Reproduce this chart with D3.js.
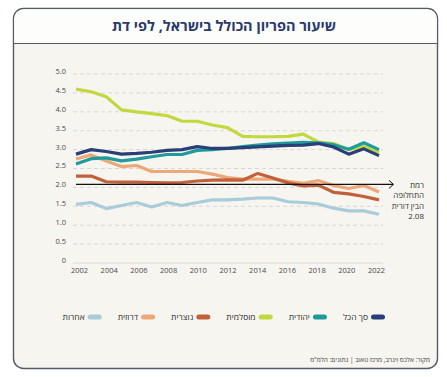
<!DOCTYPE html>
<html>
<head>
<meta charset="utf-8">
<script src="https://cdn.jsdelivr.net/npm/d3@7"></script>
<style>
  body { margin: 0; background: #ffffff; }
  svg { display: block; font-family: "Open Sans", "DejaVu Sans", sans-serif; }
</style>
</head>
<body>
<svg id="chart" width="447" height="377"></svg>
<script>
// --- Data ---
const years = d3.range(2002, 2023);
const total     = [2.88, 3.00, 2.95, 2.88, 2.90, 2.93, 2.98, 3.00, 3.08, 3.03, 3.03, 3.05, 3.07, 3.09, 3.11, 3.12, 3.16, 3.07, 2.88, 3.02, 2.84];
const jewish    = [2.62, 2.76, 2.78, 2.70, 2.75, 2.81, 2.87, 2.87, 2.98, 3.00, 3.03, 3.08, 3.12, 3.15, 3.17, 3.19, 3.18, 3.13, 3.01, 3.18, 3.00];
const muslim    = [4.60, 4.53, 4.40, 4.05, 4.00, 3.95, 3.90, 3.75, 3.75, 3.65, 3.58, 3.35, 3.34, 3.34, 3.35, 3.41, 3.20, 3.16, 3.00, 3.08, 2.92];
const christian = [2.30, 2.30, 2.15, 2.14, 2.14, 2.13, 2.12, 2.13, 2.17, 2.19, 2.20, 2.19, 2.37, 2.25, 2.12, 2.04, 2.06, 1.87, 1.83, 1.76, 1.67];
const druze     = [2.75, 2.86, 2.70, 2.55, 2.58, 2.42, 2.42, 2.42, 2.42, 2.35, 2.26, 2.22, 2.22, 2.22, 2.16, 2.11, 2.18, 2.05, 1.97, 2.05, 1.88];
const others    = [1.55, 1.60, 1.44, 1.52, 1.60, 1.48, 1.60, 1.52, 1.60, 1.67, 1.67, 1.69, 1.72, 1.72, 1.62, 1.60, 1.56, 1.45, 1.38, 1.38, 1.29];

const seriesNames  = ["סך הכל", "יהודית", "מוסלמית", "נוצרית", "דרוזית", "אחרות"];
const seriesValues = [total, jewish, muslim, christian, druze, others];
const seriesColors = ["#283f78", "#1f9b9c", "#c3d83e", "#c1613b", "#eca878", "#a8ccda"];

const yTicks = [0, 0.5, 1, 1.5, 2, 2.5, 3, 3.5, 4, 4.5, 5];
const xTicks = d3.range(2002, 2023, 2);
const replacement = 2.08;
const noteLines = ["רמת", "התחלופה", "הבין דורית", "2.08"];

const title = "שיעור הפריון הכולל בישראל, לפי דת";
const source = "מקור: אלכס וינרב, מרכז טאוב | נתונים: הלמ\"ס";

// --- Frame ---
const svg = d3.select("#chart");

svg.append("rect")
  .attr("x", 13.5).attr("y", 8.5)
  .attr("width", 424).attr("height", 360)
  .attr("rx", 10)
  .attr("fill", "#f7f5f0")
  .attr("stroke", "#545a66")
  .attr("stroke-width", 1.4);

// title band (white top with rounded corners)
svg.append("path")
  .attr("d", "M14.2,43 L14.2,18.5 A9.3,9.3 0 0 1 23.5,9.2 L427.5,9.2 A9.3,9.3 0 0 1 436.8,18.5 L436.8,43 Z")
  .attr("fill", "#fdfdfc");
svg.append("line")
  .attr("x1", 14).attr("x2", 437)
  .attr("y1", 43.5).attr("y2", 43.5)
  .attr("stroke", "#545a66").attr("stroke-width", 1.2);

svg.append("text")
  .attr("x", 224).attr("y", 31)
  .attr("text-anchor", "middle")
  .attr("direction", "rtl")
  .attr("font-size", 14.5)
  .attr("font-weight", 700)
  .attr("fill", "#2a3a6a")
  .text(title);

// --- Scales ---
const x = d3.scaleLinear().domain([2002, 2022]).range([76, 379]);
const y = d3.scaleLinear().domain([0, 5]).range([263, 74]);

// gridlines
const grid = svg.append("g");
grid.selectAll("line")
  .data(yTicks)
  .join("line")
  .attr("x1", 73).attr("x2", 383)
  .attr("y1", d => y(d)).attr("y2", d => y(d))
  .attr("stroke", d => d === 0 ? "#d6d6d6" : "#cfcfcf")
  .attr("stroke-width", 0.8)
  .attr("stroke-dasharray", d => d === 0 ? null : "4,3");

// y axis labels
const yAxis = d3.axisLeft(y).tickValues(yTicks)
  .tickFormat(d => d === 0 ? "0" : d3.format(".1f")(d))
  .tickSize(0).tickPadding(0);
svg.append("g")
  .attr("transform", "translate(66,-3)")
  .call(yAxis)
  .call(g => g.select(".domain").remove())
  .call(g => g.selectAll("text").attr("font-size", 7.5).attr("fill", "#4a4a4a")
    .attr("font-family", "\"Open Sans\", \"DejaVu Sans\", sans-serif"));

// x axis labels
const xLab = d3.scaleLinear().domain([2002, 2022]).range([79, 376]);
const xAxis = d3.axisBottom(xLab).tickValues(xTicks)
  .tickFormat(d3.format("d")).tickSize(0).tickPadding(0);
svg.append("g")
  .attr("transform", "translate(0,268)")
  .call(xAxis)
  .call(g => g.select(".domain").remove())
  .call(g => g.selectAll("text").attr("font-size", 7.5).attr("fill", "#4a4a4a")
    .attr("font-family", "\"Open Sans\", \"DejaVu Sans\", sans-serif"));

// --- Lines ---
const line = d3.line()
  .x((d, i) => x(years[i]))
  .y(d => y(d));

const drawOrder = [5, 4, 3, 2, 1, 0];
svg.append("g")
  .selectAll("path")
  .data(drawOrder)
  .join("path")
  .attr("d", i => line(seriesValues[i]))
  .attr("fill", "none")
  .attr("stroke", i => seriesColors[i])
  .attr("stroke-width", 3.2)
  .attr("stroke-linejoin", "round")
  .attr("stroke-linecap", "butt");

// replacement level line with arrow
const ry = y(replacement);
svg.append("line")
  .attr("x1", 76).attr("x2", 393)
  .attr("y1", ry).attr("y2", ry)
  .attr("stroke", "#111").attr("stroke-width", 1.1);
svg.append("path")
  .attr("d", `M389,${ry - 4} L393.5,${ry} L389,${ry + 4}`)
  .attr("fill", "none").attr("stroke", "#111").attr("stroke-width", 1);

// in rtl text, "start" is the right edge
svg.append("g")
  .selectAll("text")
  .data(noteLines)
  .join("text")
  .attr("x", 424)
  .attr("y", (d, i) => 188 + i * 10.3)
  .attr("text-anchor", "start")
  .attr("direction", "rtl")
  .attr("font-size", 8)
  .attr("fill", "#333")
  .text(d => d);

// --- Legend (right to left) ---
const legend = svg.append("g").attr("transform", "translate(0,317)");
let right = 385;
seriesNames.forEach((name, i) => {
  legend.append("rect")
    .attr("x", right - 14).attr("y", -2.5)
    .attr("width", 14).attr("height", 5)
    .attr("rx", 2.5)
    .attr("fill", seriesColors[i]);
  const t = legend.append("text")
    .attr("x", right - 17).attr("y", 3)
    .attr("text-anchor", "start")
    .attr("direction", "rtl")
    .attr("font-size", 8.5)
    .attr("fill", "#333")
    .text(name);
  const w = t.node().getComputedTextLength();
  right = right - 17 - w - 16;
});

// source
svg.append("text")
  .attr("x", 430).attr("y", 362)
  .attr("text-anchor", "start")
  .attr("direction", "rtl")
  .attr("font-size", 6.5)
  .attr("fill", "#444")
  .text(source);
</script>
</body>
</html>
